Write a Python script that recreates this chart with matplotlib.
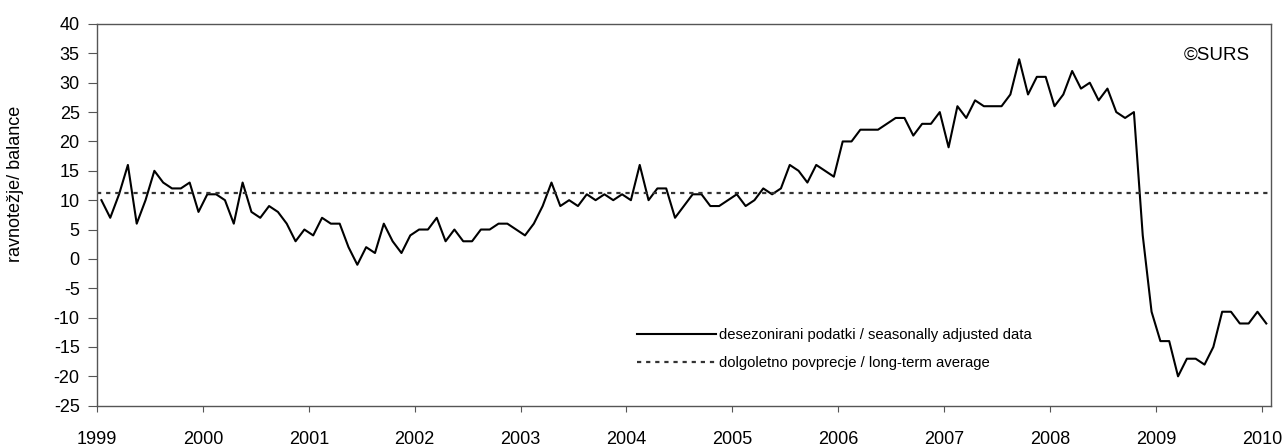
import numpy as np
import pandas as pd
import matplotlib
matplotlib.use('Agg')
import matplotlib.pyplot as plt
from matplotlib import font_manager

# Data: monthly balance, Jan 1999 - Jan 2010
start_month = '1999-01'
balance = [10, 7, 11, 16, 6, 10, 15, 13, 12, 12, 13, 8,
           11, 11, 10, 6, 13, 8, 7, 9, 8, 6, 3, 5,
           4, 7, 6, 6, 2, -1, 2, 1, 6, 3, 1, 4,
           5, 5, 7, 3, 5, 3, 3, 5, 5, 6, 6, 5,
           4, 6, 9, 13, 9, 10, 9, 11, 10, 11, 10, 11,
           10, 16, 10, 12, 12, 7, 9, 11, 11, 9, 9, 10,
           11, 9, 10, 12, 11, 12, 16, 15, 13, 16, 15, 14,
           20, 20, 22, 22, 22, 23, 24, 24, 21, 23, 23, 25,
           19, 26, 24, 27, 26, 26, 26, 28, 34, 28, 31, 31,
           26, 28, 32, 29, 30, 27, 29, 25, 24, 25, 4, -9,
           -14, -14, -20, -17, -17, -18, -15, -9, -9, -11, -11, -9,
           -11]
long_term_avg = 11.3
years = list(range(1999, 2011))
yticks = list(range(-25, 41, 5))

label_sa = 'desezonirani podatki / seasonally adjusted data'
label_avg = 'dolgoletno povprecje / long-term average'
ylabel = 'ravnotežje/ balance'

# Fonts (Arial-like)
plt.rcParams['font.family'] = ['Liberation Sans', 'DejaVu Sans']
plt.rcParams['axes.unicode_minus'] = False
names = {f.name for f in font_manager.fontManager.ttflist}
if 'Liberation Sans Narrow' in names:
    leg_prop = {'family': 'Liberation Sans Narrow', 'size': 13}
else:
    leg_prop = {'family': 'Liberation Sans', 'size': 10.7}

# month positions (middle of each month, in decimal years)
dates = pd.date_range(start_month, periods=len(balance), freq='MS')
x = dates.year + (dates.month - 0.5) / 12

fig = plt.figure(figsize=(12.86, 4.48), dpi=100)
ax = fig.add_axes([97 / 1286, 1 - 405.7 / 448, (1270.7 - 97) / 1286, (405.7 - 24) / 448])

ax.plot(x, balance, color='black', lw=1.5, label=label_sa)
ax.axhline(long_term_avg, color='#333333', lw=1.6, dashes=(1.9, 2.2), label=label_avg)

ax.set_xlim(1999, 2010 + 1 / 12)
ax.set_ylim(-25, 40)
ax.set_xticks(years)
ax.set_yticks(yticks)
ax.tick_params(axis='x', direction='out', length=4.5, width=0.8, color='#555555',
               pad=13.5, labelsize=13)
ax.tick_params(axis='y', direction='out', length=6.5, width=0.8, color='#555555',
               pad=6, labelsize=13)
for s in ax.spines.values():
    s.set_color('#555555')
    s.set_linewidth(1.0)

ax.set_ylabel(ylabel, fontsize=13, va='center')
ax.yaxis.set_label_coords(-0.0695, 0.58)

ax.text(0.982, 0.919, '©SURS', transform=ax.transAxes, ha='right', va='center', fontsize=13.5)

ax.legend(loc='upper left', bbox_to_anchor=(0.455, 0.2195), frameon=False, prop=leg_prop,
          handlelength=5.3, handletextpad=0.25, labelspacing=0.97, borderaxespad=0)

plt.savefig('out.png', dpi=100)
